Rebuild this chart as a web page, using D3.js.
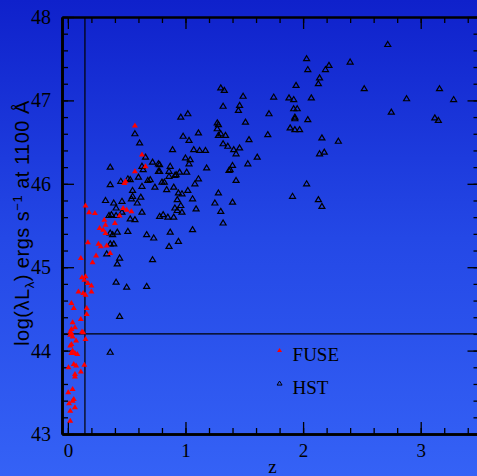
<!DOCTYPE html>
<html>
<head>
<meta charset="utf-8">
<script src="https://cdn.jsdelivr.net/npm/d3@7"></script>
<style>
  html, body { margin: 0; padding: 0; background: #1a30d0; }
  svg { display: block; }
  text { font-family: "Liberation Serif", "DejaVu Serif", serif; fill: #000; }
</style>
</head>
<body>
<svg id="chart" width="477" height="476"></svg>
<script>
// FUSE sample: [redshift z, log(lambda L_lambda) at 1100 A]
const fusePoints = [
  [0.57,46.70],[0.63,46.35],[0.66,46.21],[0.57,46.15],[0.49,46.03],[0.48,46.01],[0.15,45.74],[0.18,45.66],
  [0.23,45.65],[0.31,45.57],[0.40,45.53],[0.32,45.51],[0.27,45.47],[0.30,45.45],[0.32,45.41],[0.47,45.71],
  [0.50,45.69],[0.54,45.67],[0.44,45.62],[0.17,45.30],[0.26,45.28],[0.28,45.25],[0.33,45.26],[0.36,45.17],
  [0.24,45.14],[0.21,45.06],[0.11,45.11],[0.12,44.88],[0.15,44.89],[0.14,44.85],[0.17,44.81],[0.20,44.78],
  [0.20,44.71],[0.09,44.71],[0.13,44.69],[0.15,44.67],[0.03,44.57],[0.05,44.51],[0.16,44.51],[0.16,44.44],
  [0.11,44.38],[0.04,44.34],[0.06,44.28],[0.03,44.26],[0.02,44.23],[0.03,44.21],[0.12,44.23],[0.13,44.22],
  [0.02,44.19],[0.04,44.17],[0.15,44.14],[0.07,44.12],[0.03,44.08],[0.02,44.06],[0.04,44.00],[0.03,43.97],
  [0.06,43.97],[0.08,43.96],[0.05,43.84],[0.07,43.82],[0.005,43.80],[0.14,43.83],[0.11,43.75],[0.06,43.72],
  [0.06,43.69],[0.04,43.54],[0.003,43.50],[0.05,43.42],[0.04,43.40],[0.01,43.37],[0.06,43.32],[0.02,43.28],
  [0.02,43.16]
];

// HST sample: [redshift z, log(lambda L_lambda) at 1100 A]
const hstPoints = [
  [2.72,47.67],[2.03,47.50],[2.04,47.37],[2.22,47.42],[2.19,47.37],[2.40,47.46],[2.14,47.27],[2.13,47.20],
  [1.94,47.18],[2.52,47.14],[3.16,47.14],[2.88,47.02],[3.28,47.01],[2.75,46.86],[3.12,46.79],[3.15,46.76],
  [1.30,47.15],[1.33,47.12],[1.49,47.05],[1.75,47.04],[1.88,47.03],[1.92,47.01],[2.07,47.03],[1.32,46.93],
  [1.46,46.94],[1.45,46.88],[1.92,46.90],[1.95,46.90],[1.71,46.84],[1.93,46.80],[1.93,46.78],[2.04,46.77],
  [0.96,46.80],[1.02,46.84],[1.27,46.73],[1.28,46.71],[1.27,46.66],[1.51,46.74],[1.89,46.67],[1.93,46.65],
  [1.97,46.65],[0.98,46.57],[1.03,46.52],[1.11,46.61],[1.28,46.58],[1.34,46.58],[1.30,46.60],[1.54,46.53],
  [1.70,46.59],[2.16,46.55],[2.30,46.51],[0.89,46.41],[1.07,46.41],[1.12,46.40],[1.17,46.40],[1.32,46.48],
  [1.36,46.45],[1.41,46.41],[1.46,46.43],[1.43,46.36],[1.61,46.32],[2.14,46.36],[2.18,46.38],[1.00,46.31],
  [1.04,46.29],[1.03,46.24],[0.87,46.21],[0.78,46.23],[1.18,46.19],[1.40,46.22],[1.53,46.24],[1.37,46.16],
  [1.38,46.17],[0.86,46.15],[0.86,46.09],[0.95,46.14],[1.01,46.14],[0.92,46.11],[0.91,46.10],[0.78,46.15],
  [1.11,46.06],[1.08,46.00],[0.80,46.02],[0.82,46.02],[0.90,45.96],[0.84,45.93],[1.43,46.04],[2.03,46.00],
  [1.91,45.85],[2.13,45.81],[2.16,45.73],[0.94,45.89],[0.97,45.88],[1.02,45.92],[1.28,45.89],[0.93,45.81],
  [0.96,45.74],[1.06,45.82],[1.25,45.77],[1.40,45.78],[0.91,45.71],[0.93,45.68],[0.97,45.66],[1.09,45.70],
  [1.30,45.67],[0.81,45.63],[0.78,45.61],[0.85,45.60],[0.90,45.60],[1.32,45.53],[1.06,45.45],[0.87,45.42],
  [0.94,45.31],[0.86,45.25],[0.36,46.20],[0.57,46.60],[0.61,46.49],[0.66,46.32],[0.63,46.21],[0.64,46.17],
  [0.72,46.26],[0.77,46.24],[0.77,46.15],[0.60,46.08],[0.45,46.03],[0.51,46.06],[0.53,46.05],[0.36,45.99],
  [0.55,45.92],[0.63,45.97],[0.68,46.04],[0.70,46.05],[0.74,45.96],[0.55,45.85],[0.54,45.82],[0.62,45.84],
  [0.59,45.77],[0.32,45.80],[0.39,45.77],[0.41,45.71],[0.46,45.79],[0.35,45.62],[0.37,45.63],[0.41,45.62],
  [0.46,45.66],[0.63,45.66],[0.53,45.58],[0.57,45.57],[0.36,45.41],[0.38,45.39],[0.42,45.42],[0.51,45.43],
  [0.67,45.39],[0.73,45.35],[0.36,45.28],[0.39,45.28],[0.33,45.16],[0.44,45.11],[0.42,45.04],[0.72,45.09],
  [0.41,44.82],[0.50,44.76],[0.67,44.77],[0.44,44.41],[0.36,43.98]
];

// Axis ticks
const zMajor = [0, 1, 2, 3];
const zMinor = d3.range(0, 3.5, 0.2);
const lumMajor = [43, 44, 45, 46, 47, 48];
const lumMinor = d3.range(43, 48.01, 0.2);

// Reference cuts
const zCut = [0.145];
const lumCut = [44.2];

const legendItems = ["FUSE", "HST"];

const svg = d3.select("#chart");
const W = 477, H = 476;

const x = d3.scaleLinear().domain([-0.05, 3.5]).range([62, 479.5]);
const y = d3.scaleLinear().domain([43, 48]).range([434, 17]);

// Background gradient
const defs = svg.append("defs");
const grad = defs.append("linearGradient")
  .attr("id", "bg").attr("x1", 0).attr("y1", 0).attr("x2", 0).attr("y2", 1);
grad.append("stop").attr("offset", "0%").attr("stop-color", "#0f21cb");
grad.append("stop").attr("offset", "50%").attr("stop-color", "#2448e6");
grad.append("stop").attr("offset", "100%").attr("stop-color", "#3562f6");
svg.append("rect").attr("width", W).attr("height", H).attr("fill", "url(#bg)");

// Reference lines
svg.append("g").selectAll("line.v").data(zCut).join("line")
  .attr("x1", d => x(d)).attr("x2", d => x(d))
  .attr("y1", y(48)).attr("y2", y(43))
  .attr("stroke", "#000").attr("stroke-width", 1.2);
svg.append("g").selectAll("line.h").data(lumCut).join("line")
  .attr("x1", x(-0.05)).attr("x2", x(3.5))
  .attr("y1", d => y(d)).attr("y2", d => y(d))
  .attr("stroke", "#000").attr("stroke-width", 1.2);

// Axes: minor ticks then major ticks on all four sides
function styleAxis(g, width) {
  g.select(".domain").attr("stroke", "#000").attr("stroke-width", width);
  g.selectAll(".tick line").attr("stroke", "#000").attr("stroke-width", 1.3);
  g.selectAll(".tick text").style("font-family", "'Liberation Serif', serif").attr("fill", "#000");
}

const bottomMinor = svg.append("g").attr("transform", `translate(0,${y(43)})`)
  .call(d3.axisBottom(x).tickValues(zMinor).tickSizeInner(-6).tickSizeOuter(0).tickFormat(""));
styleAxis(bottomMinor, 2.4);
const bottomMajor = svg.append("g").attr("transform", `translate(0,${y(43)})`)
  .call(d3.axisBottom(x).tickValues(zMajor).tickSizeInner(-12).tickSizeOuter(0).tickPadding(10).tickFormat(d3.format("d")));
styleAxis(bottomMajor, 2.4);
bottomMajor.selectAll(".tick text").style("font-size", "19px");

const topMinor = svg.append("g").attr("transform", `translate(0,${y(48)})`)
  .call(d3.axisTop(x).tickValues(zMinor).tickSizeInner(-6).tickSizeOuter(0).tickFormat(""));
styleAxis(topMinor, 1.8);
const topMajor = svg.append("g").attr("transform", `translate(0,${y(48)})`)
  .call(d3.axisTop(x).tickValues(zMajor).tickSizeInner(-12).tickSizeOuter(0).tickFormat(""));
styleAxis(topMajor, 1.8);

const leftMinor = svg.append("g").attr("transform", `translate(${x(-0.05)},0)`)
  .call(d3.axisLeft(y).tickValues(lumMinor).tickSizeInner(-6).tickSizeOuter(0).tickFormat(""));
styleAxis(leftMinor, 2.6);
const leftMajor = svg.append("g").attr("transform", `translate(${x(-0.05)},0)`)
  .call(d3.axisLeft(y).tickValues(lumMajor).tickSizeInner(-12).tickSizeOuter(0).tickPadding(11).tickFormat(d3.format("d")));
styleAxis(leftMajor, 2.6);
leftMajor.selectAll(".tick text").style("font-size", "20px");

const rightMinor = svg.append("g").attr("transform", `translate(${x(3.5)},0)`)
  .call(d3.axisRight(y).tickValues(lumMinor).tickSizeInner(-6).tickSizeOuter(0).tickFormat(""));
styleAxis(rightMinor, 1.8);
const rightMajor = svg.append("g").attr("transform", `translate(${x(3.5)},0)`)
  .call(d3.axisRight(y).tickValues(lumMajor).tickSizeInner(-12).tickSizeOuter(0).tickFormat(""));
styleAxis(rightMajor, 1.8);

// Triangle markers
const tri = (w, h) => `M0,${-h * 0.6}L${w / 2},${h * 0.4}L${-w / 2},${h * 0.4}Z`;

svg.append("g").selectAll("path").data(hstPoints).join("path")
  .attr("transform", d => `translate(${x(d[0])},${y(d[1])})`)
  .attr("d", tri(6, 5))
  .attr("fill", "none").attr("stroke", "#000").attr("stroke-width", 1.2);

svg.append("g").selectAll("path").data(fusePoints).join("path")
  .attr("transform", d => `translate(${x(d[0])},${y(d[1])})`)
  .attr("d", tri(6, 5))
  .attr("fill", "#ff0000").attr("stroke", "none");

// Legend
const legend = svg.append("g");
const legendY = [43.935, 43.54];
legend.append("path")
  .attr("transform", `translate(${x(1.8)},${y(legendY[0]) - 5.5})`)
  .attr("d", tri(5, 4)).attr("fill", "#ff0000");
legend.append("path")
  .attr("transform", `translate(${x(1.8)},${y(legendY[1]) - 5.5})`)
  .attr("d", tri(5, 4)).attr("fill", "none").attr("stroke", "#000").attr("stroke-width", 1);
legend.selectAll("text").data(legendItems).join("text")
  .attr("x", x(1.8) + 13)
  .attr("y", (d, i) => y(legendY[i]) + 5)
  .style("font-size", "19px")
  .text(d => d);

// Axis titles
svg.append("text")
  .attr("x", x(1.74)).attr("y", 473)
  .attr("text-anchor", "middle")
  .style("font-size", "19px")
  .text("z");

const yTitle = svg.append("text")
  .attr("transform", "translate(29,223) rotate(-90)")
  .attr("text-anchor", "middle")
  .style("font-family", "'Liberation Sans', Arial, sans-serif")
  .style("letter-spacing", "0.5px")
  .style("font-size", "20px");
yTitle.append("tspan").text("log(λL");
yTitle.append("tspan").attr("dy", 5).style("font-size", "13px").text("λ");
yTitle.append("tspan").attr("dy", -5).text(") ergs s");
yTitle.append("tspan").attr("dy", -7).style("font-size", "13px").text("−1");
yTitle.append("tspan").attr("dy", 7).text(" at 1100 Å");
</script>
</body>
</html>
